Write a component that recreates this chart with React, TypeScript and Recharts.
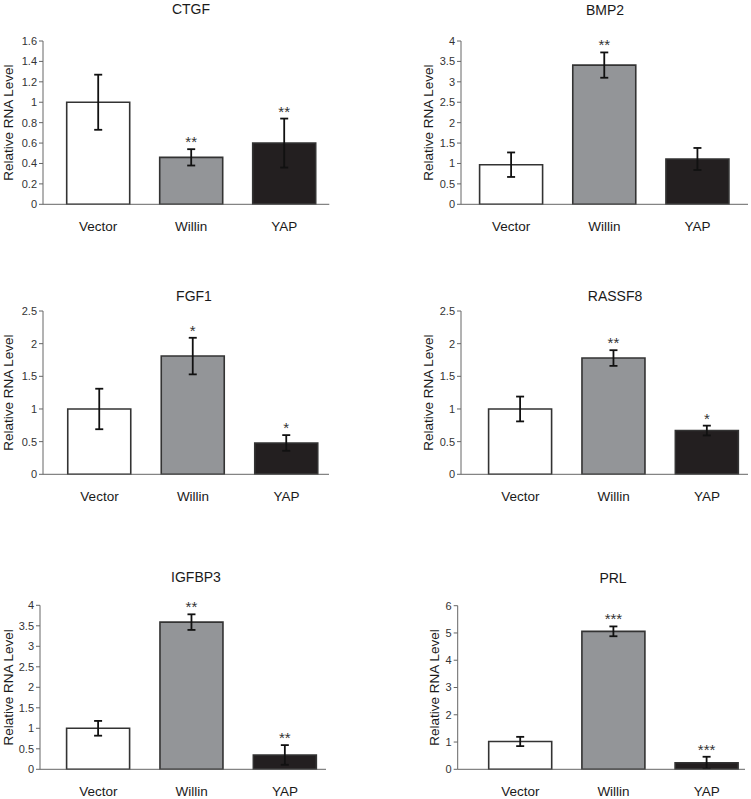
import { BarChart, Bar, XAxis, YAxis, ErrorBar, Cell, LabelList } from "recharts";

const categories = ["Vector", "Willin", "YAP"];

const ctgfMean = [1.0, 0.46, 0.6];
const ctgfErr = [0.27, 0.08, 0.24];
const ctgfStars = ["", "**", "**"];
const ctgfTicks = [0, 0.2, 0.4, 0.6, 0.8, 1, 1.2, 1.4, 1.6];

const bmp2Mean = [0.97, 3.41, 1.11];
const bmp2Err = [0.3, 0.31, 0.27];
const bmp2Stars = ["", "**", ""];
const bmp2Ticks = [0, 0.5, 1, 1.5, 2, 2.5, 3, 3.5, 4];

const fgf1Mean = [1.0, 1.81, 0.48];
const fgf1Err = [0.31, 0.28, 0.12];
const fgf1Stars = ["", "*", "*"];
const fgf1Ticks = [0, 0.5, 1, 1.5, 2, 2.5];

const rassf8Mean = [1.0, 1.78, 0.67];
const rassf8Err = [0.19, 0.12, 0.075];
const rassf8Stars = ["", "**", "*"];
const rassf8Ticks = [0, 0.5, 1, 1.5, 2, 2.5];

const igfbp3Mean = [1.0, 3.59, 0.35];
const igfbp3Err = [0.18, 0.19, 0.24];
const igfbp3Stars = ["", "**", "**"];
const igfbp3Ticks = [0, 0.5, 1, 1.5, 2, 2.5, 3, 3.5, 4];

const prlMean = [1.02, 5.06, 0.24];
const prlErr = [0.17, 0.18, 0.22];
const prlStars = ["", "***", "***"];
const prlTicks = [0, 1, 2, 3, 4, 5, 6];

const barFills = ["#ffffff", "#939598", "#231f20"];
const FONT = "'Liberation Sans', Arial, sans-serif";

function buildRows(means: number[], errs: number[], stars: string[]) {
    return categories.map((name, i) => ({ name, mean: means[i], err: errs[i], star: stars[i] }));
}

type PanelProps = {
    title: string;
    means: number[];
    errs: number[];
    stars: string[];
    ticks: number[];
    // layout
    left: number; top: number; width: number; height: number;
    axisX: number; plotTop: number; plotRight: number; plotBottom: number;
    padL: number; padR: number;
    titleX: number; titleY: number;
    labelX: number;
};

function Panel(p: PanelProps) {
    const rows = buildRows(p.means, p.errs, p.stars);
    const xAxisH = 30;
    const margin = {
        left: 0,
        top: p.plotTop - p.top,
        right: p.left + p.width - p.plotRight,
        bottom: p.height - (p.plotBottom - p.top) - xAxisH,
    };

    const yLabel = (props: any) => {
        const vb = props.viewBox || {};
        const cy = (vb.y ?? margin.top) + (vb.height ?? 0) / 2;
        return (
            <text x={p.labelX} y={cy} transform={`rotate(-90 ${p.labelX} ${cy})`} textAnchor="middle"
                dominantBaseline="central" fontSize={13.5} fill="#1a1a1a" fontFamily={FONT}>
                Relative RNA Level
            </text>
        );
    };

    const starLabel = (props: any) => {
        const { x, y, width, height, index, value } = props;
        if (!value) return null;
        const pxPerUnit = height / p.means[index];
        const errTop = y - p.errs[index] * pxPerUnit;
        return (
            <text x={x + width / 2} y={errTop - 2} textAnchor="middle" fontSize={15} fill="#333" fontFamily={FONT}>
                {value}
            </text>
        );
    };

    return (
        <div style={{ position: "absolute", left: p.left, top: p.top, width: p.width, height: p.height }}>
            <div style={{
                position: "absolute", left: p.titleX - p.left - 60, top: p.titleY - p.top - 7, width: 120,
                textAlign: "center", fontSize: 14, lineHeight: "14px", color: "#1a1a1a", fontFamily: FONT,
            }}>{p.title}</div>
            <BarChart width={p.width} height={p.height} data={rows} margin={margin}>
                <XAxis dataKey="name" height={xAxisH} padding={{ left: p.padL, right: p.padR }}
                    tickSize={0} tickMargin={17} axisLine={{ stroke: "#666" }}
                    tick={{ fontSize: 13.5, fill: "#1a1a1a", fontFamily: FONT }} interval={0} />
                <YAxis width={p.axisX - p.left} domain={[0, p.ticks[p.ticks.length - 1]]} ticks={p.ticks}
                    tickSize={4} tickMargin={2}
                    axisLine={{ stroke: "#666" }} tickLine={{ stroke: "#666" }}
                    tick={{ fontSize: 11, fill: "#333", fontFamily: FONT }} label={yLabel} />
                <Bar dataKey="mean" barSize={63} stroke="#333" strokeWidth={1.6} isAnimationActive={false}>
                    {rows.map((_, i) => <Cell key={i} fill={barFills[i]} />)}
                    <ErrorBar dataKey="err" width={4} stroke="#111" strokeWidth={1.8} />
                    <LabelList dataKey="star" content={starLabel} />
                </Bar>
            </BarChart>
        </div>
    );
}

export default function App() {
    return (
        <div style={{ position: "absolute", left: 0, top: 0, width: 751, height: 799, background: "#fff", fontFamily: FONT }}>
            <Panel title="CTGF" means={ctgfMean} errs={ctgfErr} stars={ctgfStars} ticks={ctgfTicks}
                left={0} top={0} width={375} height={250} axisX={43} plotTop={41} plotRight={329.3} plotBottom={204.3}
                padL={8.7} padR={-1.4} titleX={191} titleY={9} labelX={9} />
            <Panel title="BMP2" means={bmp2Mean} errs={bmp2Err} stars={bmp2Stars} ticks={bmp2Ticks}
                left={375} top={0} width={376} height={250} axisX={461} plotTop={41} plotRight={748} plotBottom={204.3}
                padL={3.6} padR={3.9} titleX={605} titleY={10} labelX={54} />
            <Panel title="FGF1" means={fgf1Mean} errs={fgf1Err} stars={fgf1Stars} ticks={fgf1Ticks}
                left={0} top={260} width={375} height={260} axisX={43} plotTop={311} plotRight={329} plotBottom={474.3}
                padL={9.75} padR={-4.25} titleX={194} titleY={296} labelX={9} />
            <Panel title="RASSF8" means={rassf8Mean} errs={rassf8Err} stars={rassf8Stars} ticks={rassf8Ticks}
                left={375} top={260} width={376} height={260} axisX={461} plotTop={311} plotRight={748} plotBottom={474.3}
                padL={12.6} padR={-5.7} titleX={615} titleY={296} labelX={54} />
            <Panel title="IGFBP3" means={igfbp3Mean} errs={igfbp3Err} stars={igfbp3Stars} ticks={igfbp3Ticks}
                left={0} top={540} width={375} height={259} axisX={40} plotTop={605.3} plotRight={326} plotBottom={769.3}
                padL={11.6} padR={-5.7} titleX={196} titleY={577} labelX={9} />
            <Panel title="PRL" means={prlMean} errs={prlErr} stars={prlStars} ticks={prlTicks}
                left={375} top={540} width={376} height={259} axisX={457.7} plotTop={605.7} plotRight={745} plotBottom={769.3}
                padL={16} padR={-8.3} titleX={613} titleY={578} labelX={59} />
        </div>
    );
}
